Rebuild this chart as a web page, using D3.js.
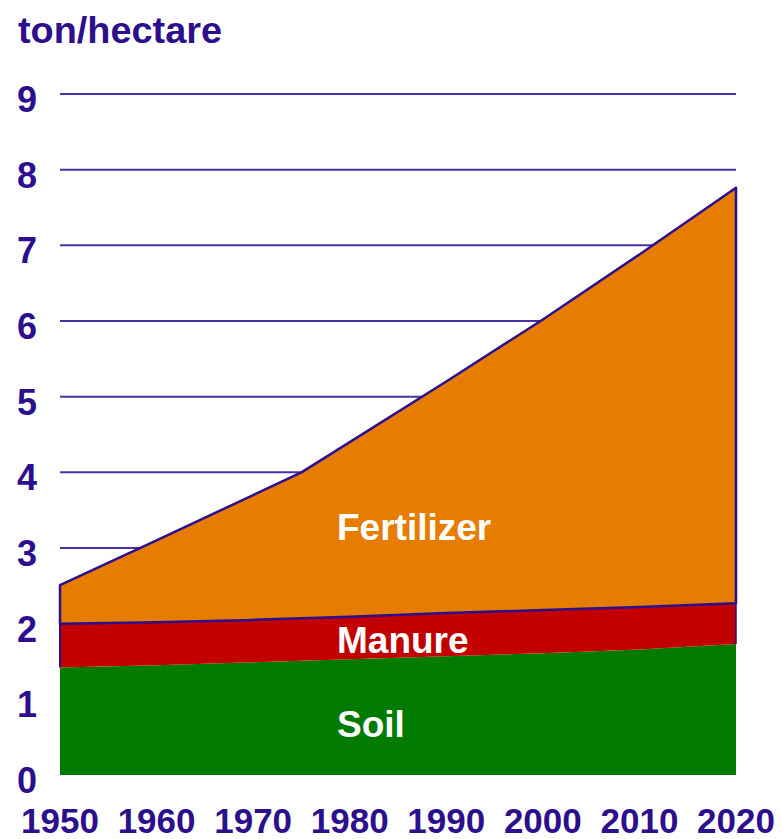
<!DOCTYPE html>
<html><head><meta charset="utf-8">
<script src="https://cdn.jsdelivr.net/npm/d3@7"></script>
<style>body{margin:0;background:#fff}svg{display:block}</style>
</head><body>
<svg id="c" width="782" height="839"></svg>
<script>
const years = [1950, 1960, 1970, 1975, 1980, 1990, 2000, 2010, 2020];
const soil = [1.42, 1.45, 1.49, 1.51, 1.53, 1.57, 1.61, 1.66, 1.73];
const manure = [0.58, 0.57, 0.56, 0.56, 0.56, 0.57, 0.57, 0.56, 0.54];
const fertilizer = [0.51, 1.08, 1.65, 1.93, 2.31, 3.06, 3.84, 4.66, 5.49];
const seriesNames = ["Soil", "Manure", "Fertilizer"];
const xTicks = [1950, 1960, 1970, 1980, 1990, 2000, 2010, 2020];
const yTicks = [0, 1, 2, 3, 4, 5, 6, 7, 8, 9];
const unitLabel = "ton/hectare";

const navy = "#2d0f8e";
const gridCol = "#4a30a6";
const colors = {Soil: "#007b00", Manure: "#c30000", Fertilizer: "#e67c00"};

const svg = d3.select("#c");
const x = d3.scaleLinear().domain([1950, 2020]).range([60, 736]);
const y = d3.scaleLinear().domain([0, 9]).range([775, 94]);

const rows = years.map((yr, i) => ({year: yr, Soil: soil[i], Manure: manure[i], Fertilizer: fertilizer[i]}));
const stacked = d3.stack().keys(seriesNames)(rows);

// gridlines
svg.append("g").selectAll("line").data(yTicks.filter(d => d > 0)).join("line")
  .attr("x1", x(1950)).attr("x2", x(2020))
  .attr("y1", d => y(d)).attr("y2", d => y(d))
  .attr("stroke", gridCol).attr("stroke-width", 2);

const area = d3.area().x(d => x(d.data.year)).y0(d => y(d[0])).y1(d => y(d[1]));

// areas
svg.append("g").selectAll("path").data(stacked).join("path")
  .attr("d", area)
  .attr("fill", d => colors[d.key])
  .attr("stroke", d => d.key === "Fertilizer" ? navy : "none")
  .attr("stroke-width", 2.5).attr("stroke-linejoin", "round");

// red side edges
const m = stacked[1];
svg.append("line").attr("x1", x(years[0])).attr("x2", x(years[0]))
  .attr("y1", y(m[0][0])).attr("y2", y(m[0][1])).attr("stroke", navy).attr("stroke-width", 2);
const last = m[m.length - 1];
svg.append("line").attr("x1", x(years[years.length-1])).attr("x2", x(years[years.length-1]))
  .attr("y1", y(last[0])).attr("y2", y(last[1])).attr("stroke", navy).attr("stroke-width", 1.5);

// axes labels
const font = "'Liberation Sans', Arial, sans-serif";
svg.append("g").selectAll("text").data(yTicks).join("text")
  .attr("x", 27).attr("y", d => y(d) + 18)
  .attr("text-anchor", "middle")
  .attr("font-family", font).attr("font-weight", "bold").attr("font-size", 36)
  .attr("fill", navy).text(d => d);

svg.append("g").selectAll("text").data(xTicks).join("text")
  .attr("x", d => x(d)).attr("y", 833)
  .attr("text-anchor", "middle")
  .attr("font-family", font).attr("font-weight", "bold").attr("font-size", 35)
  .attr("fill", navy).text(d => d);

svg.append("text").attr("x", 18).attr("y", 43)
  .attr("font-family", font).attr("font-weight", "bold").attr("font-size", 36)
  .attr("textLength", 204).attr("lengthAdjust", "spacingAndGlyphs")
  .attr("fill", navy).text(unitLabel);

// series labels
const labelPos = {Fertilizer: 540, Manure: 653, Soil: 737};
svg.append("g").selectAll("text").data(seriesNames).join("text")
  .attr("x", 337).attr("y", d => labelPos[d])
  .attr("font-family", font).attr("font-weight", "bold").attr("font-size", 37)
  .attr("fill", "#ffffff").text(d => d);
</script>
</body></html>
